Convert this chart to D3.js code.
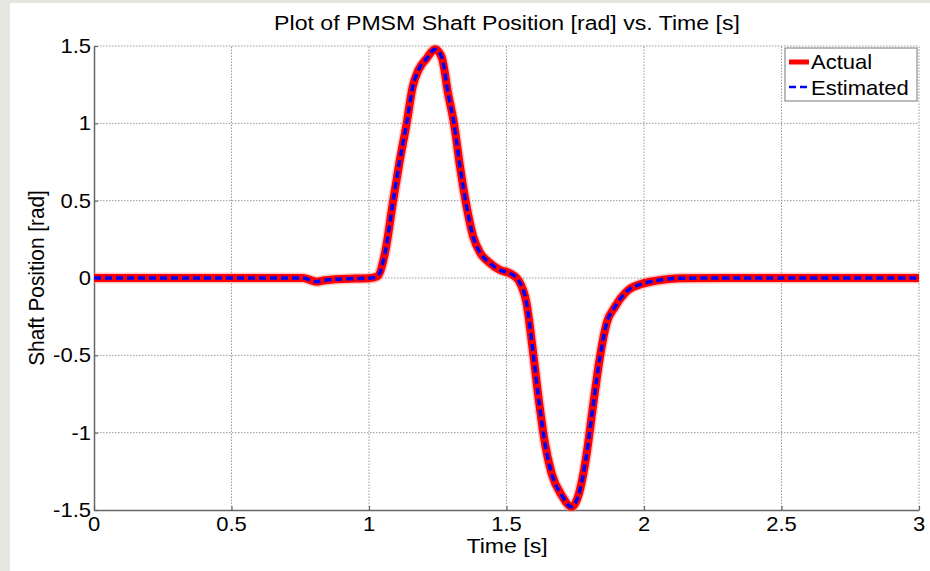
<!DOCTYPE html>
<html>
<head>
<meta charset="utf-8">
<script src="https://cdn.jsdelivr.net/npm/d3@7"></script>
<style>
  body { margin: 0; background: #e6e6e1; }
  svg { display: block; }
  text { font-family: "Liberation Sans", Arial, sans-serif; fill: #000; }
</style>
</head>
<body>
<svg id="chart"></svg>
<script>
const width = 930,
  height = 571;

const time = [0, 0.5, 0.76, 0.79, 0.81, 0.84, 0.88, 0.95, 1.0, 1.03, 1.058, 1.088,
  1.11, 1.137, 1.159, 1.18, 1.21, 1.24, 1.264, 1.288, 1.309, 1.331, 1.355, 1.379,
  1.405, 1.434, 1.476, 1.513, 1.543, 1.573, 1.597, 1.619, 1.64, 1.664, 1.7, 1.737,
  1.767, 1.79, 1.816, 1.84, 1.864, 1.895, 1.943, 1.99, 2.046, 2.13, 2.3, 3.0];
const actualPos = [0, 0, 0, -0.015, -0.024, -0.015, -0.008, -0.004, -0.002, 0.01, 0.16, 0.5,
  0.74, 1.0, 1.237, 1.345, 1.42, 1.479, 1.43, 1.19, 1.0, 0.72, 0.46, 0.267,
  0.16, 0.105, 0.052, 0.03, -0.013, -0.164, -0.487, -0.81, -1.07, -1.263, -1.403, -1.479,
  -1.37, -1.155, -0.81, -0.509, -0.293, -0.185, -0.078, -0.039, -0.017, -0.002, 0, 0];
const estimatedPos = [0, 0, 0, -0.015, -0.024, -0.015, -0.008, -0.004, -0.002, 0.01, 0.16, 0.5,
  0.74, 1.0, 1.237, 1.345, 1.42, 1.479, 1.43, 1.19, 1.0, 0.72, 0.46, 0.267,
  0.16, 0.105, 0.052, 0.03, -0.013, -0.164, -0.487, -0.81, -1.07, -1.263, -1.403, -1.479,
  -1.37, -1.155, -0.81, -0.509, -0.293, -0.185, -0.078, -0.039, -0.017, -0.002, 0, 0];

const xTicks = [0, 0.5, 1, 1.5, 2, 2.5, 3];
const yTicks = [-1.5, -1, -0.5, 0, 0.5, 1, 1.5];
const seriesNames = ["Actual", "Estimated"];

const margin = { left: 94, right: 11, top: 46, bottom: 61 };

const x = d3.scaleLinear().domain([0, 3]).range([margin.left, width - margin.right]);
const y = d3.scaleLinear().domain([-1.5, 1.5]).range([height - margin.bottom, margin.top]);

const svg = d3.select("#chart").attr("width", width).attr("height", height);

// white panel over the grey page
svg.append("rect")
  .attr("x", 10).attr("y", 3)
  .attr("width", width - 10).attr("height", height - 3)
  .attr("fill", "#fff");

const sx = 1.1; // picture is a bit stretched sideways
const fmt = (v) => d3.format("")(v).replace("\u2212", "-");

function label(g, txt, px, py, anchor, size) {
  return g.append("text")
    .attr("transform", `translate(${px},${py}) scale(${sx},1)`)
    .attr("text-anchor", anchor)
    .style("font-size", size + "px")
    .text(txt);
}

// grid
const grid = svg.append("g")
  .attr("stroke", "#999")
  .attr("stroke-width", 1)
  .attr("stroke-dasharray", "1.5,1.5");
grid.selectAll(".gx")
  .data(xTicks.slice(1))
  .join("line")
  .attr("x1", (d) => x(d)).attr("x2", (d) => x(d))
  .attr("y1", y(-1.5)).attr("y2", y(1.5));
grid.selectAll(".gy")
  .data(yTicks.slice(1))
  .join("line")
  .attr("x1", x(0)).attr("x2", x(3))
  .attr("y1", (d) => y(d)).attr("y2", (d) => y(d));

// axes
const xAxis = d3.axisBottom(x).tickValues(xTicks).tickSizeInner(-4).tickSizeOuter(0).tickFormat("");
const yAxis = d3.axisLeft(y).tickValues(yTicks).tickSizeInner(-4).tickSizeOuter(0).tickFormat("");

const gx = svg.append("g").attr("transform", `translate(0,${y(-1.5)})`).call(xAxis);
const gy = svg.append("g").attr("transform", `translate(${x(0)},0)`).call(yAxis);
[gx, gy].forEach((g) => {
  g.select(".domain").attr("stroke", "#666").attr("stroke-width", 1.5);
  g.selectAll(".tick line").attr("stroke", "#666").attr("stroke-width", 1.2);
});

const labels = svg.append("g");
xTicks.forEach((t) => label(labels, fmt(t), x(t), y(-1.5) + 21, "middle", 20));
yTicks.forEach((t) => label(labels, fmt(t), x(0) - 3, y(t) + 7, "end", 20));

// lines
const line = d3.line()
  .x((d) => x(d[0]))
  .y((d) => y(d[1]))
  .curve(d3.curveMonotoneX);

const actual = time.map((t, i) => [t, actualPos[i]]);
const estimated = time.map((t, i) => [t, estimatedPos[i]]);

svg.append("path")
  .datum(actual)
  .attr("fill", "none")
  .attr("stroke", "#ff8080")
  .attr("stroke-opacity", 0.45)
  .attr("stroke-width", 11)
  .attr("stroke-linejoin", "round")
  .attr("d", line);
svg.append("path")
  .datum(actual)
  .attr("fill", "none")
  .attr("stroke", "#ff0000")
  .attr("stroke-width", 8)
  .attr("stroke-linejoin", "round")
  .attr("d", line);
svg.append("path")
  .datum(estimated)
  .attr("fill", "none")
  .attr("stroke", "#0000ff")
  .attr("stroke-width", 3.5)
  .attr("stroke-dasharray", "7,4")
  .attr("d", line);

// title and axis labels
label(svg, "Plot of PMSM Shaft Position [rad] vs. Time [s]", 507, 30, "middle", 21);
label(svg, "Time [s]", 507, 553, "middle", 21);
svg.append("text")
  .attr("transform", `translate(44,278) rotate(-90) scale(1.04,${sx})`)
  .attr("text-anchor", "middle")
  .style("font-size", "20px")
  .text("Shaft Position [rad]");

// legend
const lg = svg.append("g").attr("transform", "translate(785,48)");
lg.append("rect")
  .attr("width", 132).attr("height", 53)
  .attr("fill", "#fff")
  .attr("stroke", "#777")
  .attr("stroke-width", 1);
lg.append("line")
  .attr("x1", 4).attr("x2", 24).attr("y1", 14).attr("y2", 14)
  .attr("stroke", "#ff0000").attr("stroke-width", 5);
lg.append("line")
  .attr("x1", 4).attr("x2", 24).attr("y1", 39).attr("y2", 39)
  .attr("stroke", "#0000ff").attr("stroke-width", 2.5)
  .attr("stroke-dasharray", "7,4");
label(lg, seriesNames[0], 26, 21, "start", 20);
label(lg, seriesNames[1], 26, 47, "start", 20);
</script>
</body>
</html>
